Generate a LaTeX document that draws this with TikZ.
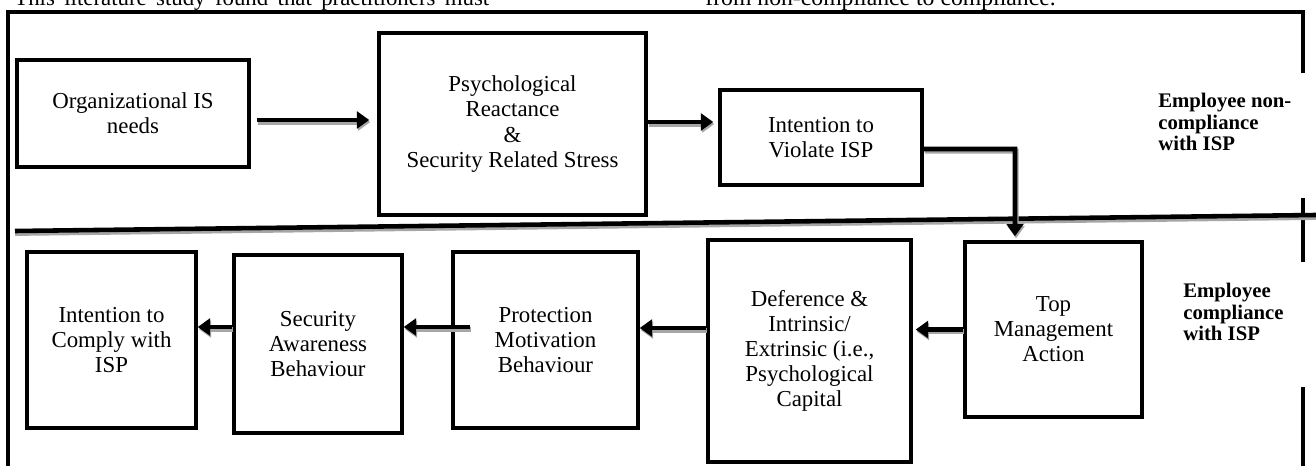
\documentclass[tikz,border=0pt]{standalone}
\usepackage{fontspec}
\setmainfont{Liberation Serif}
\usetikzlibrary{arrows.meta,shadows}

\begin{document}
\begin{tikzpicture}[x=0.02cm, y=-0.02cm,
    stage/.style={draw, fill=white, line width=2pt, align=center, inner sep=1pt,
      font=\fontsize{13}{14.3}\selectfont,
      drop shadow={shadow xshift=0.8pt, shadow yshift=-0.8pt, fill=black, opacity=0.45}},
    push/.style={line width=2.8pt, -{Triangle[length=7pt, width=9.5pt]},
      preaction={draw=black!35, line width=2.8pt, transform canvas={xshift=0.6pt, yshift=-1.2pt}}},
    realm/.style={anchor=west, align=left, inner sep=0pt, font=\bfseries\fontsize{11.8}{12.2}\selectfont},
    rim/.style={line width=2.3pt}]

      % Fix the page to the size of the figure
      \useasboundingbox (0,0) rectangle (1316,466);

      % Draw the line of text above the frame and the frame
      \node[anchor=base west, inner sep=0pt, font=\fontsize{13}{14}\selectfont] (intro) at (14,6)
        {\makebox[9.5cm][s]{This literature study found that practitioners must}};
      \node[anchor=base west, inner sep=0pt, font=\fontsize{13.5}{14}\selectfont] (introend) at (705,6)
        {from non-compliance to compliance.};
      \draw[rim] (8,466) -- (8,12) -- (1303,12) -- (1303,73);
      \draw[rim] (1303,198) -- (1303,262);
      \draw[rim] (1303,387) -- (1303,466);

      % Draw the dividing line
      \draw[line width=2.6pt, preaction={draw=black!35, line width=2.6pt, transform canvas={yshift=-1.5pt}}]
        (15,231) -- (1316,215);

      % Draw the non-compliance row
      \node[stage, minimum width=4.64cm, minimum height=2.14cm] (needs) at (133,113.5)
        {Organizational IS\\needs};
      \node[stage, minimum width=5.34cm, minimum height=3.64cm] (reactance) at (512.5,124)
        {Psychological\\Reactance\\\&\\Security Related Stress};
      \node[stage, minimum width=4.04cm, minimum height=1.9cm] (violate) at (821,137.5)
        {Intention to\\Violate ISP};
      \node[realm] (noncomp) at (1158,122) {Employee non-\\compliance\\with ISP};

      % Draw the compliance row
      \node[stage, minimum width=3.54cm, minimum height=3.5cm] (topmgmt) at (1053.5,329.5)
        {Top\\Management\\Action};
      \node[stage, minimum width=4.06cm, minimum height=4.44cm] (deference) at (809.5,351)
        {Deference \&\\Intrinsic/\\Extrinsic (i.e.,\\Psychological\\Capital};
      \node[stage, minimum width=3.7cm, minimum height=3.52cm] (protection) at (545.5,340)
        {Protection\\Motivation\\Behaviour};
      \node[stage, minimum width=3.36cm, minimum height=3.56cm] (awareness) at (318,344)
        {Security\\Awareness\\Behaviour};
      \node[stage, minimum width=3.38cm, minimum height=3.52cm] (comply) at (111.5,340)
        {Intention to\\Comply with\\ISP};
      \node[realm] (comp) at (1183,312) {Employee\\compliance\\with ISP};

      % Draw the arrows
      \draw[push, shorten <=0.12cm, shorten >=0.16cm]
        ([yshift=-0.13cm]needs.east) -- ([yshift=-0.13cm]needs.east -| reactance.west);
      \draw[push, shorten >=0.1cm]
        ([yshift=0.04cm]reactance.east) -- ([yshift=0.04cm]reactance.east -| violate.west);
      \coordinate (bend) at (1015,149);
      \draw[push, shorten >=0.08cm] ([yshift=-0.23cm]violate.east) -- (bend) -- (bend |- topmgmt.north);
      \draw[push, shorten >=0.06cm] (topmgmt.west) -- (topmgmt.west -| deference.east);
      \draw[push] ([yshift=0.46cm]deference.west) -- ([yshift=0.46cm]deference.west -| protection.east);
      \draw[push, shorten <=-0.38cm] ([yshift=0.26cm]protection.west) -- ([yshift=0.26cm]protection.west -| awareness.east);
      \draw[push] ([yshift=0.34cm]awareness.west) -- ([yshift=0.34cm]awareness.west -| comply.east);

\end{tikzpicture}
\end{document}
